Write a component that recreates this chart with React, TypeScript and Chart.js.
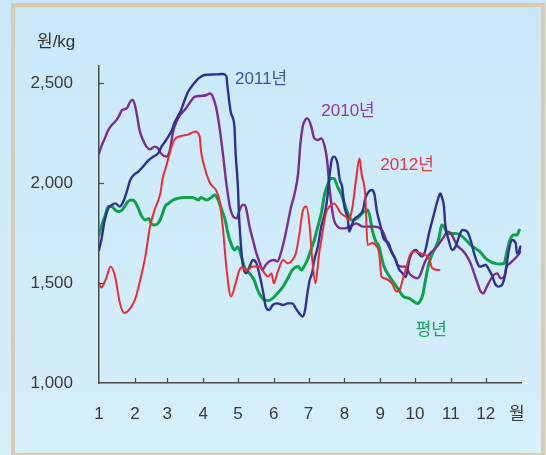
import React, { useEffect, useRef } from "react";
import { Chart, registerables } from "chart.js";

Chart.register(...registerables);

// ---- data (x = day of year, y = 원/kg) ----
const d2011 = [0, 2, 5, 8, 11, 14, 18, 21, 24, 27, 30, 34, 38, 43, 47, 51, 54, 58, 63, 65, 68, 71, 74, 77, 81, 86, 91, 100, 107, 110, 111, 114, 117, 118, 120, 121, 123, 124, 127, 130, 133, 136, 139, 142, 144, 147, 150, 154, 159, 163, 167, 170, 173, 176, 178, 180, 182, 184, 186, 189, 192, 195, 197, 199, 201, 203, 206, 208, 210, 212, 215, 216, 218, 220, 225, 228, 230, 233, 236, 238, 240, 243, 246, 250, 253, 256, 259, 262, 265, 268, 271, 274, 276, 279, 282, 285, 288, 291, 294, 295, 296, 298, 299, 302, 305, 308, 311, 314, 318, 321, 324, 327, 329, 334, 337, 340, 342, 345, 348, 351, 354, 357, 360, 361, 362, 364];
const v2011 = [1665, 1715, 1815, 1873, 1890, 1898, 1882, 1907, 1957, 2015, 2040, 2057, 2082, 2115, 2132, 2148, 2182, 2215, 2265, 2298, 2332, 2365, 2415, 2457, 2490, 2523, 2540, 2543, 2545, 2535, 2480, 2350, 2280, 2150, 1980, 1830, 1660, 1600, 1548, 1582, 1615, 1598, 1532, 1448, 1382, 1365, 1390, 1398, 1390, 1398, 1398, 1373, 1348, 1332, 1365, 1448, 1515, 1548, 1615, 1682, 1782, 1848, 1915, 2032, 2115, 2132, 2098, 2015, 1982, 1882, 1815, 1757, 1782, 1815, 1840, 1865, 1923, 1957, 1965, 1940, 1860, 1790, 1720, 1700, 1650, 1620, 1570, 1550, 1530, 1615, 1657, 1665, 1648, 1632, 1665, 1748, 1815, 1882, 1940, 1948, 1932, 1882, 1798, 1715, 1665, 1682, 1732, 1765, 1757, 1715, 1648, 1598, 1582, 1590, 1565, 1532, 1498, 1482, 1490, 1548, 1665, 1715, 1698, 1648, 1648, 1682];

const d2010 = [0, 2, 5, 8, 11, 14, 17, 20, 24, 27, 29, 31, 33, 35, 38, 41, 44, 48, 51, 54, 58, 61, 64, 67, 70, 74, 78, 83, 88, 93, 96, 98, 101, 104, 107, 110, 113, 116, 119, 121, 124, 126, 128, 130, 133, 136, 139, 141, 144, 147, 151, 154, 157, 160, 163, 166, 169, 172, 174, 176, 178, 180, 183, 186, 189, 192, 195, 197, 199, 201, 203, 206, 209, 213, 216, 219, 222, 225, 228, 232, 238, 243, 246, 249, 252, 255, 258, 261, 265, 268, 271, 275, 278, 281, 284, 286, 289, 292, 295, 298, 301, 304, 307, 309, 312, 315, 318, 321, 324, 327, 329, 332, 335, 338, 341, 344, 347, 350, 352, 355, 358, 361, 364];
const v2010 = [2148, 2182, 2223, 2265, 2290, 2307, 2332, 2365, 2373, 2407, 2415, 2390, 2332, 2265, 2215, 2182, 2168, 2182, 2173, 2145, 2132, 2160, 2257, 2307, 2340, 2365, 2398, 2432, 2435, 2440, 2448, 2435, 2382, 2282, 2148, 1998, 1882, 1832, 1823, 1857, 1890, 1890, 1848, 1782, 1715, 1648, 1598, 1565, 1590, 1607, 1615, 1607, 1648, 1715, 1798, 1882, 1948, 2048, 2198, 2282, 2315, 2323, 2290, 2223, 2215, 2223, 2182, 2115, 1982, 1882, 1815, 1782, 1773, 1773, 1782, 1790, 1798, 1790, 1782, 1782, 1782, 1773, 1748, 1698, 1665, 1632, 1590, 1582, 1582, 1548, 1532, 1523, 1548, 1598, 1632, 1648, 1665, 1682, 1707, 1732, 1757, 1748, 1715, 1690, 1673, 1657, 1632, 1598, 1548, 1498, 1465, 1448, 1482, 1515, 1540, 1548, 1523, 1532, 1582, 1598, 1615, 1632, 1657];

const d2012 = [0, 2, 6, 10, 14, 18, 22, 28, 32, 35, 40, 44, 48, 53, 55, 58, 61, 65, 71, 77, 83, 87, 88, 91, 96, 101, 104, 107, 110, 114, 118, 121, 124, 127, 133, 139, 143, 146, 149, 151, 154, 159, 163, 167, 170, 173, 176, 179, 182, 184, 187, 190, 193, 196, 199, 203, 209, 213, 216, 219, 222, 225, 227, 230, 232, 236, 239, 242, 244, 247, 253, 257, 260, 263, 266, 269, 273, 278, 282, 285, 288, 294];
const v2012 = [1498, 1477, 1520, 1582, 1530, 1400, 1350, 1382, 1432, 1500, 1632, 1780, 1865, 1948, 2023, 2082, 2148, 2215, 2235, 2242, 2257, 2232, 2165, 2082, 1998, 1965, 1915, 1775, 1580, 1432, 1498, 1560, 1580, 1560, 1582, 1582, 1548, 1532, 1548, 1498, 1548, 1615, 1598, 1615, 1648, 1740, 1860, 1882, 1780, 1632, 1498, 1640, 1748, 1848, 1882, 1898, 1848, 1832, 1815, 1882, 2015, 2123, 2040, 1940, 1690, 1700, 1690, 1648, 1532, 1523, 1498, 1457, 1470, 1530, 1590, 1645, 1657, 1648, 1640, 1623, 1573, 1565];

const dAvg = [0, 2, 5, 8, 11, 14, 17, 20, 22, 25, 28, 31, 34, 37, 40, 43, 45, 48, 51, 54, 57, 60, 64, 68, 73, 77, 81, 86, 88, 93, 97, 100, 103, 106, 109, 111, 114, 117, 120, 123, 126, 130, 134, 137, 140, 143, 146, 150, 154, 159, 163, 167, 172, 175, 177, 180, 183, 186, 189, 192, 195, 198, 200, 203, 206, 209, 212, 215, 218, 220, 223, 226, 229, 232, 234, 236, 239, 242, 244, 246, 251, 255, 259, 263, 268, 272, 275, 278, 280, 282, 285, 288, 291, 294, 296, 298, 301, 304, 308, 312, 317, 321, 325, 329, 334, 338, 342, 347, 350, 352, 355, 358, 361, 363];
const vAvg = [1740, 1782, 1832, 1882, 1882, 1865, 1857, 1865, 1882, 1907, 1915, 1907, 1873, 1832, 1815, 1823, 1798, 1790, 1798, 1832, 1882, 1898, 1915, 1923, 1928, 1927, 1928, 1915, 1928, 1915, 1928, 1940, 1915, 1865, 1815, 1757, 1698, 1665, 1680, 1632, 1575, 1548, 1515, 1465, 1432, 1415, 1412, 1423, 1448, 1482, 1523, 1565, 1582, 1565, 1582, 1615, 1665, 1715, 1782, 1848, 1948, 1998, 2023, 2023, 1982, 1948, 1898, 1848, 1815, 1815, 1823, 1840, 1857, 1865, 1832, 1765, 1710, 1680, 1630, 1585, 1532, 1498, 1465, 1432, 1423, 1407, 1398, 1415, 1448, 1515, 1598, 1648, 1682, 1732, 1790, 1782, 1748, 1748, 1748, 1740, 1715, 1690, 1673, 1657, 1623, 1607, 1598, 1595, 1598, 1648, 1715, 1740, 1740, 1765];

const monthStarts = [0, 31, 59, 90, 120, 151, 181, 212, 243, 273, 304, 334];
const monthLabels = ["1", "2", "3", "4", "5", "6", "7", "8", "9", "10", "11", "12"];
const unitTickValue = 361;
const unitTickLabel = "월";
const yTicks = [1000, 1500, 2000, 2500];

const seriesNames = ["2012년", "2011년", "2010년", "평년"];
const labelTexts = ["2011년", "2010년", "2012년", "평년"];
const labelDays = [117.5, 192, 243, 273.5];
const labelValues = [2520, 2357, 2088, 1265];
const labelColors = ["#3b55a6", "#8b3a9b", "#ec3440", "#16a457"];

const FONT = '"Liberation Sans", "Noto Sans CJK KR", sans-serif';

const toPoints = (d: number[], v: number[]) => d.map((x, i) => ({ x, y: v[i] }));

const decorPlugin = {
  id: "decor",
  afterDraw(chart: any) {
    const { ctx, chartArea, scales } = chart;
    const xs = scales.x;
    const ys = scales.y;
    ctx.save();
    ctx.strokeStyle = "#4a4a4a";
    ctx.lineWidth = 1.2;
    // inward tick marks
    monthStarts.slice(1).forEach((d) => {
      const px = Math.round(xs.getPixelForValue(d)) + 0.5;
      ctx.beginPath();
      ctx.moveTo(px, chartArea.bottom);
      ctx.lineTo(px, chartArea.bottom - 5);
      ctx.stroke();
    });
    yTicks.slice(1).forEach((v) => {
      const py = Math.round(ys.getPixelForValue(v)) + 0.5;
      ctx.beginPath();
      ctx.moveTo(chartArea.left, py);
      ctx.lineTo(chartArea.left + 5, py);
      ctx.stroke();
    });
    // unit label
    ctx.fillStyle = "#333333";
    ctx.font = `17px ${FONT}`;
    ctx.textAlign = "left";
    ctx.textBaseline = "middle";
    ctx.fillText("원/kg", chartArea.left - 62, chartArea.top - 24);
    // series annotations
    labelTexts.forEach((t, i) => {
      ctx.fillStyle = labelColors[i];
      ctx.font = `17px ${FONT}`;
      ctx.fillText(t, xs.getPixelForValue(labelDays[i]), ys.getPixelForValue(labelValues[i]));
    });
    ctx.restore();
  },
};

export default function App() {
  const ref = useRef<HTMLCanvasElement>(null);
  useEffect(() => {
    if (!ref.current) return;
    const chart = new Chart(ref.current, {
      type: "line",
      data: {
        datasets: [
          { label: seriesNames[0], data: toPoints(d2012, v2012), borderColor: "#ee2a2f", borderWidth: 2, order: 1 },
          { label: seriesNames[1], data: toPoints(d2011, v2011), borderColor: "#2e3192", borderWidth: 2.4, order: 2 },
          { label: seriesNames[2], data: toPoints(d2010, v2010), borderColor: "#7d2a93", borderWidth: 2.4, order: 3 },
          { label: seriesNames[3], data: toPoints(dAvg, vAvg), borderColor: "#0ca24c", borderWidth: 3, order: 4 },
        ],
      },
      options: {
        responsive: false,
        animation: false,
        parsing: false,
        elements: {
          point: { radius: 0 },
          line: { tension: 0.3, cubicInterpolationMode: "monotone", borderJoinStyle: "round", borderCapStyle: "round" },
        },
        layout: { padding: { left: 0, top: 66, right: 23, bottom: 0 } },
        plugins: { legend: { display: false }, tooltip: { enabled: false }, title: { display: false } },
        scales: {
          x: {
            type: "linear",
            min: 0,
            max: 365,
            afterBuildTicks: (s: any) => {
              s.ticks = [...monthStarts, unitTickValue].map((value) => ({ value }));
            },
            afterFit: (s: any) => {
              s.height = 72;
            },
            ticks: {
              autoSkip: false,
              maxRotation: 0,
              padding: 21,
              color: "#3a3a3a",
              font: { family: FONT, size: 17 },
              callback: (v: any) => {
                if (v === unitTickValue) return unitTickLabel;
                const i = monthStarts.indexOf(v);
                return i >= 0 ? monthLabels[i] : "";
              },
            },
            grid: { display: false, drawTicks: false },
            border: { display: true, color: "#4a4a4a", width: 1.5 },
          },
          y: {
            type: "linear",
            min: 1000,
            max: 2585,
            afterBuildTicks: (s: any) => {
              s.ticks = yTicks.map((value) => ({ value }));
            },
            afterFit: (s: any) => {
              s.width = 99;
            },
            ticks: {
              padding: 26,
              color: "#3a3a3a",
              font: { family: FONT, size: 17 },
              callback: (v: any) => Number(v).toLocaleString("en-US"),
            },
            grid: { display: false, drawTicks: false },
            border: { display: true, color: "#4a4a4a", width: 1.5 },
          },
        },
      },
      plugins: [decorPlugin],
    } as any);
    return () => chart.destroy();
  }, []);

  return (
    <div
      style={{
        position: "absolute",
        left: 0,
        top: 0,
        width: 546,
        height: 455,
        overflow: "hidden",
        background: "linear-gradient(to bottom, #c8e8f9, #d6eff9)",
      }}
    >
      <div
        style={{
          position: "absolute",
          left: 11,
          top: 3,
          width: 534,
          height: 454,
          boxSizing: "border-box",
          border: "4px solid #dccab0",
        }}
      />
      <canvas ref={ref} width={546} height={455} style={{ position: "absolute", left: 0, top: 0 }} />
    </div>
  );
}
